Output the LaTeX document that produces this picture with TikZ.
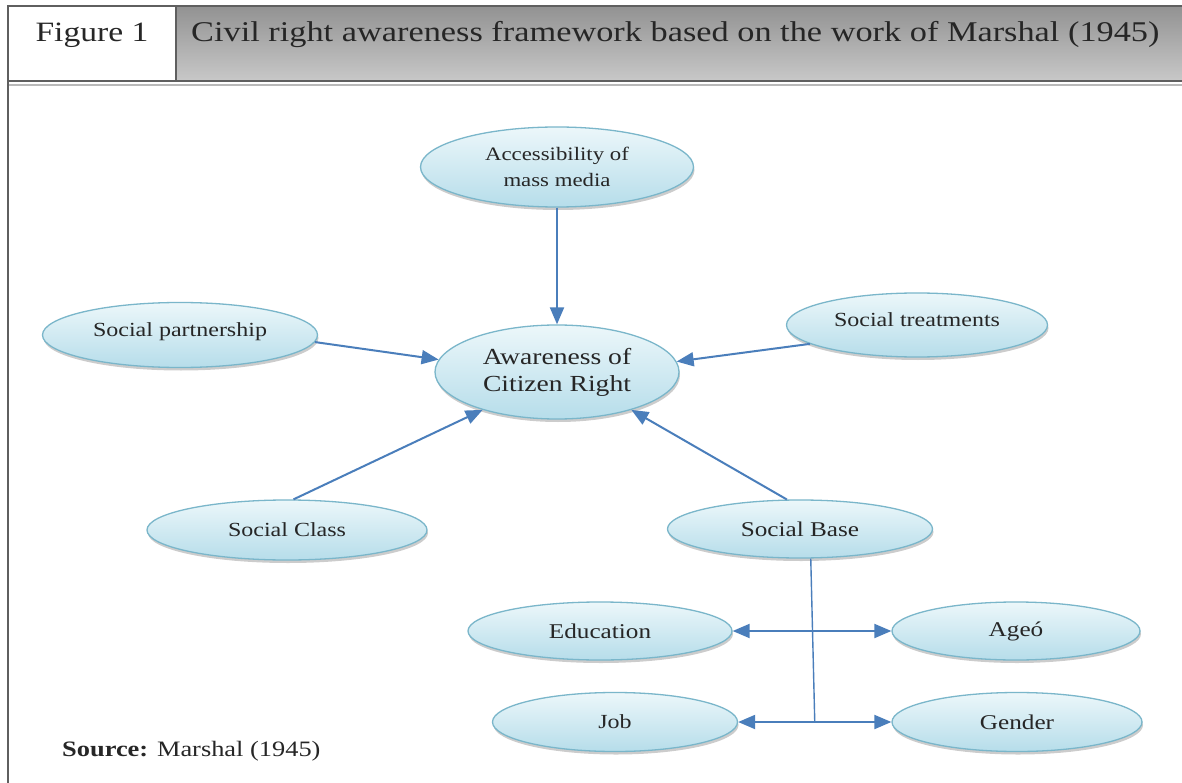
\documentclass[tikz,border=0pt]{standalone}
\usepackage{fontspec}
\setmainfont{Liberation Serif}[FakeStretch=1.2]
\usetikzlibrary{arrows.meta,shapes.geometric,shadows,calc}
\definecolor{ovaltop}{RGB}{236,247,250}
\definecolor{ovalbot}{RGB}{182,221,234}
\definecolor{ovaledge}{RGB}{122,182,202}
\definecolor{linkblue}{RGB}{74,126,187}
\definecolor{hdrtop}{RGB}{146,146,146}
\definecolor{hdrmid}{RGB}{212,212,212}
\definecolor{hdrbot}{RGB}{200,200,200}
\definecolor{hdrline}{RGB}{95,95,95}
\begin{document}
\begin{tikzpicture}[x=1pt,y=-1pt,
  oval/.style={ellipse, draw=ovaledge, line width=1.3pt,
    top color=ovaltop, bottom color=ovalbot, inner sep=0pt, align=center,
    font=\fontsize{20}{23}\selectfont, text=black!85,
    drop shadow={shadow xshift=1pt, shadow yshift=-3pt, opacity=0.2, fill=black}},
  tip/.tip={Triangle[length=17pt,width=14pt]},
  link/.style={draw=linkblue, line width=2pt, -tip},
  biline/.style={draw=linkblue, line width=2pt, tip-tip},
  stem/.style={draw=linkblue, line width=1.4pt},
  hdrtext/.style={font=\fontsize{28}{30}\selectfont, text=black!85, inner sep=0pt},
]
\useasboundingbox (0,0) rectangle (1182,783);
\fill[white] (0,0) rectangle (1182,783);

% header row
\shade[top color=hdrtop, middle color=hdrmid, bottom color=hdrbot] (176,6) rectangle (1182,81);
\draw[hdrline, line width=2pt] (1182,6) -- (8,6) -- (8,783);
\draw[hdrline, line width=2pt] (8,81) -- (1182,81);
\draw[hdrline, line width=1.2pt] (176,6) -- (176,81);
\draw[gray!55, line width=1.5pt] (9,85) -- (1182,85);

\node[hdrtext, anchor=base] (fig) at (92,42) {Figure 1};
\node[hdrtext, anchor=base west, font=\fontsize{28.6}{30}\selectfont] (title) at (191,42) {Civil right awareness framework based on the work of Marshal (1945)};

% ovals
\node[oval, minimum width=273pt, minimum height=80pt, font=\fontsize{19}{26}\selectfont] (acc) at (557,167) {Accessibility of\\mass media};
\node[oval, minimum width=244pt, minimum height=94pt, font=\fontsize{23}{27}\selectfont] (aw) at (557,372) {Awareness of\\Citizen Right};
\node[oval, minimum width=275pt, minimum height=65pt, text depth=10pt] (sp) at (180,335) {Social partnership};
\node[oval, minimum width=261pt, minimum height=64pt, text depth=10pt] (st) at (917,325) {Social treatments};
\node[oval, minimum width=280pt, minimum height=60pt] (sc) at (287,530) {Social Class};
\node[oval, minimum width=265pt, minimum height=58pt, font=\fontsize{21}{23}\selectfont] (sb) at (800,529) {Social Base};
\node[oval, minimum width=264pt, minimum height=58pt, font=\fontsize{21}{23}\selectfont] (edu) at (600,631) {Education};
\node[oval, minimum width=248pt, minimum height=58pt, font=\fontsize{21}{23}\selectfont] (age) at (1016,631) {Ageó};
\node[oval, minimum width=245pt, minimum height=59pt] (job) at (615,722) {Job};
\node[oval, minimum width=250pt, minimum height=59pt, font=\fontsize{21}{23}\selectfont] (gen) at (1017,722) {Gender};

% connectors into the central oval
\draw[link] (acc.south) -- (aw.north);
\draw[link] (sp.-3) -- (aw.174);
\draw[link] (st.190) -- (aw.5);
\draw[link] (sc.78) -- (aw.207);
\draw[link] (sb.114) -- (aw.333);

% social base branches
\coordinate (jn) at ($(job.east)!0.5!(gen.west)$);
\draw[stem] (sb.-70) -- (jn);
\draw[biline] (edu.east) -- (age.west);
\draw[biline] (job.east) -- (gen.west);

\node[anchor=base west, inner sep=0pt, font=\fontsize{22}{24}\selectfont, text=black!85] (src) at (62,756) {\textbf{Source:} Marshal (1945)};
\end{tikzpicture}
\end{document}
